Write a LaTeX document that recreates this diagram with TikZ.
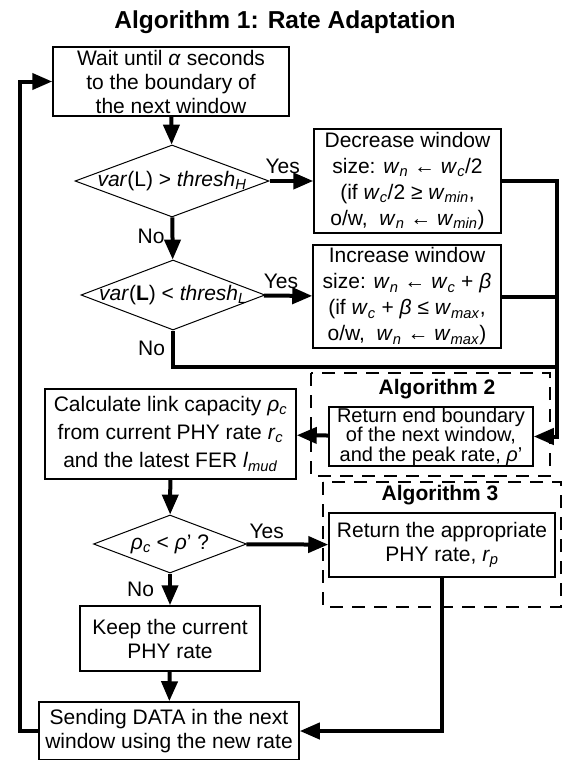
\documentclass[tikz,border=0pt]{standalone}
\usepackage{fontspec}
\setmainfont{Liberation Sans}
\usepackage{tikz}
\usetikzlibrary{shapes.geometric}
\usetikzlibrary{arrows.meta}

\newcommand{\isub}[2]{\textit{#1}\textsubscript{\textit{#2}}}

\begin{document}
\begin{tikzpicture}[
    x=1pt, y=-1pt,
    font=\fontsize{21}{24}\selectfont,
    block/.style={rectangle, draw, line width=1.5pt, align=center, inner sep=0pt},
    decision/.style={diamond, draw, line width=1pt, inner sep=0pt},
    group/.style={draw, line width=1.2pt, dash pattern=on 13pt off 9pt},
    flow/.style={line width=4pt, -{Triangle[length=20pt, width=16pt]}},
    link/.style={line width=4pt, -}
]
\useasboundingbox (0,0) rectangle (562,760);

% Title
\node[font=\fontsize{24.5}{28}\selectfont\bfseries] (title) at (285,22) {Algorithm 1: Rate Adaptation};

% Define groups
\draw[group] (311,373) rectangle (550,476);
\node[font=\fontsize{21}{24}\selectfont\bfseries] (alg2) at (437,389) {Algorithm 2};
\draw[group] (323,482) rectangle (561,607);
\node[font=\fontsize{21}{24}\selectfont\bfseries] (alg3) at (440,495) {Algorithm 3};

% Define blocks
\node[block, minimum width=236pt, minimum height=69pt] (wait) at (171,81.5)
    {Wait until \textit{α} seconds\\to the boundary of\\the next window};
\node[block, minimum width=187pt, minimum height=104pt, font=\fontsize{21}{26}\selectfont] (dec) at (407.5,181)
    {Decrease window\\size: \isub{w}{n} ← \isub{w}{c}/2\\(if \isub{w}{c}/2 ≥ \isub{w}{min},\\o/w, \ \isub{w}{n} ← \isub{w}{min})};
\node[block, minimum width=188pt, minimum height=103pt, font=\fontsize{21}{26}\selectfont] (inc) at (407,296.5)
    {Increase window\\size: \isub{w}{n} ← \isub{w}{c} + \textit{β}\\(if \isub{w}{c} + \textit{β} ≤ \isub{w}{max},\\o/w, \ \isub{w}{n} ← \isub{w}{max})};
\node[block, minimum width=251pt, minimum height=90pt, font=\fontsize{21}{28}\selectfont] (calc) at (170.5,434)
    {Calculate link capacity \isub{ρ}{c}\\from current PHY rate \isub{r}{c}\\and the latest FER \isub{l}{mud}};
\node[block, minimum width=204pt, minimum height=59pt, font=\fontsize{20}{19.5}\selectfont] (peak) at (431,436.5)
    {Return end boundary\\of the next window,\\and the peak rate, \textit{ρ}'};
\node[block, minimum width=226pt, minimum height=64pt] (rate) at (442,545)
    {Return the appropriate\\PHY rate, \isub{r}{p}};
\node[block, minimum width=180pt, minimum height=65pt] (keep) at (170,638.5)
    {Keep the current\\PHY rate};
\node[block, minimum width=260pt, minimum height=58pt] (send) at (169,731)
    {Sending DATA in the next\\window using the new rate};

% Define decisions
\node[decision, minimum width=194pt, minimum height=72pt,
    label=center:{\textit{var}(L) > \isub{thresh}{H}}] (d1) at (172,181) {};
\node[decision, minimum width=184pt, minimum height=70pt,
    label=center:{\textit{var}(\textbf{L}) < \isub{thresh}{L}}] (d2) at (173,295) {};
\node[decision, minimum width=153pt, minimum height=58pt,
    label=center:{\isub{ρ}{c} < \textit{ρ}' ?}] (d3) at (170,544) {};

% Define joints
\coordinate (rjoin) at (557,436.5);
\coordinate (njoin) at (557,367);
\coordinate (ljoin) at (20,81.5);

% Define edges
\draw[flow] (wait) -- (d1);
\draw[flow] (d1) -- node[above, pos=0.3, inner sep=5pt] {Yes} (dec);
\draw[flow] (d1) -- node[left, pos=0.45, inner sep=6pt] {No} (d2);
\draw[flow] (d2) -- node[above, pos=0.35, inner sep=5pt] {Yes} (inc);
\draw[link] (d2.south) |- node[left, pos=0.25, inner sep=6pt] {No} (njoin);
\draw[flow] (dec.east) -| (rjoin) -- (peak.east);
\draw[link] (inc.east) -- (inc.east -| rjoin);
\draw[flow] (peak) -- (calc);
\draw[flow] (calc) -- (d3);
\draw[flow] (d3) -- node[above, pos=0.25] {Yes} (rate);
\draw[flow] (d3) -- node[left, pos=0.5, inner sep=14pt] {No} (keep);
\draw[flow] (keep) -- (send);
\draw[flow] (rate.south) |- (send.east);
\draw[flow] (send.west) -| (ljoin) -- (wait.west);

\end{tikzpicture}
\end{document}
